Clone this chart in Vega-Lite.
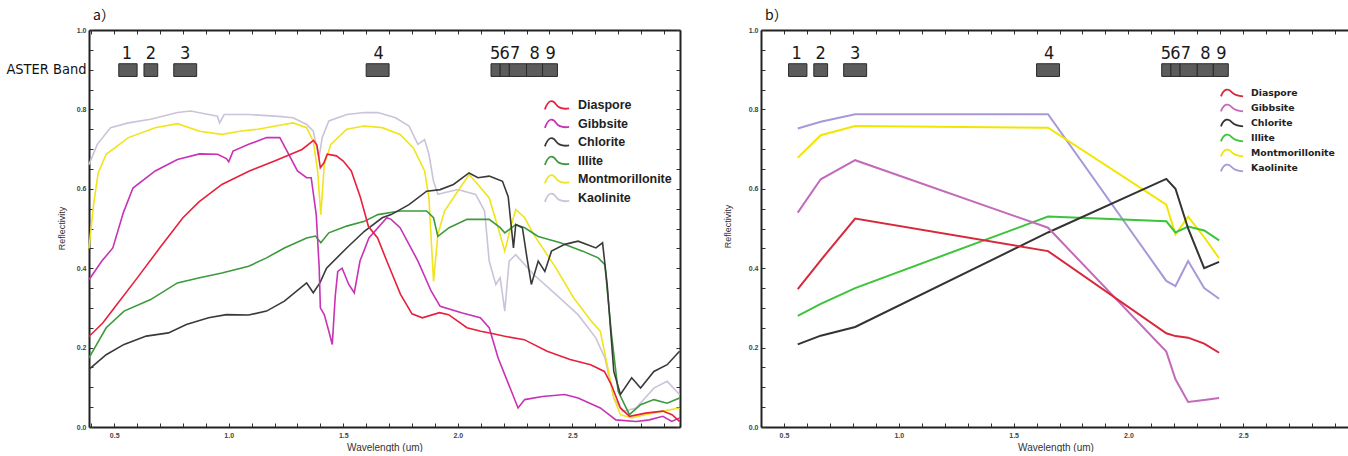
{
  "$schema": "https://vega.github.io/schema/vega-lite/v6.json",
  "padding": {"left": 5, "top": 9, "right": 0, "bottom": 0},
  "spacing": 40,
  "background": "white",
  "config": {
    "view": {"stroke": null},
    "axis": {"domainColor": "#222", "domainWidth": 2, "tickColor": "#333", "tickWidth": 1, "tickSize": -4, "labelFont": "Liberation Sans", "labelFontSize": 7, "labelFontWeight": "bold", "labelColor": "#444", "grid": false, "titleFont": "Liberation Sans", "titleFontSize": 10, "titleFontWeight": "normal", "titleColor": "#333", "labelOverlap": false, "labelFlush": false},
    "title": {"font": "Noto Sans CJK SC", "fontSize": 14, "fontWeight": "normal", "anchor": "start", "frame": "group", "offset": 3, "color": "#111"},
    "legend": {"symbolStrokeWidth": 1.8, "symbolFillColor": "transparent", "labelColor": "#222", "labelFontWeight": "bold"}
  },
  "resolve": {"scale": {"color": "independent"}, "legend": {"color": "independent"}},
  "datasets": {
    "bands": [
      {"b": "1", "x0": 0.52, "x1": 0.60},
      {"b": "2", "x0": 0.63, "x1": 0.69},
      {"b": "3", "x0": 0.76, "x1": 0.86},
      {"b": "4", "x0": 1.60, "x1": 1.70},
      {"b": "5", "x0": 2.145, "x1": 2.185},
      {"b": "6", "x0": 2.185, "x1": 2.225},
      {"b": "7", "x0": 2.225, "x1": 2.30},
      {"b": "8", "x0": 2.30, "x1": 2.37},
      {"b": "9", "x0": 2.37, "x1": 2.435}
    ],
    "blabels": [
      {"t": "1", "x": 0.555}, {"t": "2", "x": 0.66}, {"t": "3", "x": 0.81}, {"t": "4", "x": 1.655},
      {"t": "5", "x": 2.163}, {"t": "6", "x": 2.205}, {"t": "7", "x": 2.25}, {"t": "8", "x": 2.335}, {"t": "9", "x": 2.405}
    ],
    "a": [
      {"m": "Kaolinite", "x": 0.39, "y": 0.661}, {"m": "Kaolinite", "x": 0.426, "y": 0.712}, {"m": "Kaolinite", "x": 0.484, "y": 0.754}, {"m": "Kaolinite", "x": 0.562, "y": 0.766}, {"m": "Kaolinite", "x": 0.659, "y": 0.775}, {"m": "Kaolinite", "x": 0.776, "y": 0.792}, {"m": "Kaolinite", "x": 0.834, "y": 0.796}, {"m": "Kaolinite", "x": 0.912, "y": 0.787}, {"m": "Kaolinite", "x": 0.951, "y": 0.783}, {"m": "Kaolinite", "x": 0.96, "y": 0.766}, {"m": "Kaolinite", "x": 0.98, "y": 0.787}, {"m": "Kaolinite", "x": 1.087, "y": 0.787}, {"m": "Kaolinite", "x": 1.204, "y": 0.783}, {"m": "Kaolinite", "x": 1.281, "y": 0.779}, {"m": "Kaolinite", "x": 1.34, "y": 0.762}, {"m": "Kaolinite", "x": 1.369, "y": 0.745}, {"m": "Kaolinite", "x": 1.394, "y": 0.678}, {"m": "Kaolinite", "x": 1.408, "y": 0.729}, {"m": "Kaolinite", "x": 1.437, "y": 0.771}, {"m": "Kaolinite", "x": 1.515, "y": 0.787}, {"m": "Kaolinite", "x": 1.592, "y": 0.792}, {"m": "Kaolinite", "x": 1.651, "y": 0.792}, {"m": "Kaolinite", "x": 1.728, "y": 0.779}, {"m": "Kaolinite", "x": 1.787, "y": 0.758}, {"m": "Kaolinite", "x": 1.826, "y": 0.712}, {"m": "Kaolinite", "x": 1.855, "y": 0.724}, {"m": "Kaolinite", "x": 1.874, "y": 0.687}, {"m": "Kaolinite", "x": 1.894, "y": 0.619}, {"m": "Kaolinite", "x": 1.913, "y": 0.586}, {"m": "Kaolinite", "x": 2.0, "y": 0.598}, {"m": "Kaolinite", "x": 2.078, "y": 0.586}, {"m": "Kaolinite", "x": 2.117, "y": 0.544}, {"m": "Kaolinite", "x": 2.137, "y": 0.418}, {"m": "Kaolinite", "x": 2.166, "y": 0.359}, {"m": "Kaolinite", "x": 2.185, "y": 0.376}, {"m": "Kaolinite", "x": 2.205, "y": 0.292}, {"m": "Kaolinite", "x": 2.224, "y": 0.418}, {"m": "Kaolinite", "x": 2.253, "y": 0.434}, {"m": "Kaolinite", "x": 2.331, "y": 0.384}, {"m": "Kaolinite", "x": 2.428, "y": 0.334}, {"m": "Kaolinite", "x": 2.525, "y": 0.283}, {"m": "Kaolinite", "x": 2.603, "y": 0.224}, {"m": "Kaolinite", "x": 2.642, "y": 0.174}, {"m": "Kaolinite", "x": 2.681, "y": 0.073}, {"m": "Kaolinite", "x": 2.72, "y": 0.039}, {"m": "Kaolinite", "x": 2.778, "y": 0.048}, {"m": "Kaolinite", "x": 2.856, "y": 0.098}, {"m": "Kaolinite", "x": 2.914, "y": 0.115}, {"m": "Kaolinite", "x": 2.968, "y": 0.082},
      {"m": "Montmorillonite", "x": 0.39, "y": 0.45}, {"m": "Montmorillonite", "x": 0.41, "y": 0.56}, {"m": "Montmorillonite", "x": 0.43, "y": 0.64}, {"m": "Montmorillonite", "x": 0.465, "y": 0.687}, {"m": "Montmorillonite", "x": 0.562, "y": 0.729}, {"m": "Montmorillonite", "x": 0.679, "y": 0.754}, {"m": "Montmorillonite", "x": 0.776, "y": 0.764}, {"m": "Montmorillonite", "x": 0.873, "y": 0.745}, {"m": "Montmorillonite", "x": 0.97, "y": 0.737}, {"m": "Montmorillonite", "x": 1.048, "y": 0.745}, {"m": "Montmorillonite", "x": 1.126, "y": 0.75}, {"m": "Montmorillonite", "x": 1.204, "y": 0.758}, {"m": "Montmorillonite", "x": 1.281, "y": 0.766}, {"m": "Montmorillonite", "x": 1.34, "y": 0.754}, {"m": "Montmorillonite", "x": 1.369, "y": 0.72}, {"m": "Montmorillonite", "x": 1.388, "y": 0.645}, {"m": "Montmorillonite", "x": 1.402, "y": 0.535}, {"m": "Montmorillonite", "x": 1.417, "y": 0.661}, {"m": "Montmorillonite", "x": 1.446, "y": 0.712}, {"m": "Montmorillonite", "x": 1.515, "y": 0.75}, {"m": "Montmorillonite", "x": 1.592, "y": 0.758}, {"m": "Montmorillonite", "x": 1.67, "y": 0.754}, {"m": "Montmorillonite", "x": 1.748, "y": 0.737}, {"m": "Montmorillonite", "x": 1.806, "y": 0.703}, {"m": "Montmorillonite", "x": 1.855, "y": 0.645}, {"m": "Montmorillonite", "x": 1.874, "y": 0.577}, {"m": "Montmorillonite", "x": 1.894, "y": 0.367}, {"m": "Montmorillonite", "x": 1.913, "y": 0.485}, {"m": "Montmorillonite", "x": 1.942, "y": 0.544}, {"m": "Montmorillonite", "x": 2.0, "y": 0.594}, {"m": "Montmorillonite", "x": 2.049, "y": 0.636}, {"m": "Montmorillonite", "x": 2.088, "y": 0.611}, {"m": "Montmorillonite", "x": 2.137, "y": 0.577}, {"m": "Montmorillonite", "x": 2.176, "y": 0.502}, {"m": "Montmorillonite", "x": 2.205, "y": 0.443}, {"m": "Montmorillonite", "x": 2.234, "y": 0.51}, {"m": "Montmorillonite", "x": 2.253, "y": 0.548}, {"m": "Montmorillonite", "x": 2.292, "y": 0.527}, {"m": "Montmorillonite", "x": 2.331, "y": 0.485}, {"m": "Montmorillonite", "x": 2.428, "y": 0.401}, {"m": "Montmorillonite", "x": 2.506, "y": 0.325}, {"m": "Montmorillonite", "x": 2.584, "y": 0.266}, {"m": "Montmorillonite", "x": 2.622, "y": 0.241}, {"m": "Montmorillonite", "x": 2.652, "y": 0.157}, {"m": "Montmorillonite", "x": 2.681, "y": 0.073}, {"m": "Montmorillonite", "x": 2.71, "y": 0.031}, {"m": "Montmorillonite", "x": 2.759, "y": 0.023}, {"m": "Montmorillonite", "x": 2.817, "y": 0.031}, {"m": "Montmorillonite", "x": 2.895, "y": 0.04}, {"m": "Montmorillonite", "x": 2.968, "y": 0.048},
      {"m": "Illite", "x": 0.39, "y": 0.174}, {"m": "Illite", "x": 0.465, "y": 0.25}, {"m": "Illite", "x": 0.543, "y": 0.292}, {"m": "Illite", "x": 0.659, "y": 0.321}, {"m": "Illite", "x": 0.776, "y": 0.363}, {"m": "Illite", "x": 0.873, "y": 0.376}, {"m": "Illite", "x": 0.97, "y": 0.388}, {"m": "Illite", "x": 1.087, "y": 0.405}, {"m": "Illite", "x": 1.165, "y": 0.426}, {"m": "Illite", "x": 1.243, "y": 0.451}, {"m": "Illite", "x": 1.34, "y": 0.476}, {"m": "Illite", "x": 1.379, "y": 0.481}, {"m": "Illite", "x": 1.402, "y": 0.464}, {"m": "Illite", "x": 1.437, "y": 0.489}, {"m": "Illite", "x": 1.515, "y": 0.506}, {"m": "Illite", "x": 1.592, "y": 0.518}, {"m": "Illite", "x": 1.651, "y": 0.535}, {"m": "Illite", "x": 1.748, "y": 0.544}, {"m": "Illite", "x": 1.864, "y": 0.544}, {"m": "Illite", "x": 1.894, "y": 0.527}, {"m": "Illite", "x": 1.913, "y": 0.48}, {"m": "Illite", "x": 1.962, "y": 0.502}, {"m": "Illite", "x": 2.04, "y": 0.523}, {"m": "Illite", "x": 2.137, "y": 0.523}, {"m": "Illite", "x": 2.185, "y": 0.502}, {"m": "Illite", "x": 2.205, "y": 0.489}, {"m": "Illite", "x": 2.253, "y": 0.51}, {"m": "Illite", "x": 2.292, "y": 0.502}, {"m": "Illite", "x": 2.351, "y": 0.48}, {"m": "Illite", "x": 2.448, "y": 0.464}, {"m": "Illite", "x": 2.545, "y": 0.443}, {"m": "Illite", "x": 2.613, "y": 0.426}, {"m": "Illite", "x": 2.642, "y": 0.409}, {"m": "Illite", "x": 2.671, "y": 0.233}, {"m": "Illite", "x": 2.70, "y": 0.09}, {"m": "Illite", "x": 2.749, "y": 0.031}, {"m": "Illite", "x": 2.798, "y": 0.056}, {"m": "Illite", "x": 2.856, "y": 0.069}, {"m": "Illite", "x": 2.914, "y": 0.06}, {"m": "Illite", "x": 2.968, "y": 0.073},
      {"m": "Chlorite", "x": 0.39, "y": 0.145}, {"m": "Chlorite", "x": 0.465, "y": 0.182}, {"m": "Chlorite", "x": 0.543, "y": 0.208}, {"m": "Chlorite", "x": 0.64, "y": 0.229}, {"m": "Chlorite", "x": 0.737, "y": 0.237}, {"m": "Chlorite", "x": 0.815, "y": 0.258}, {"m": "Chlorite", "x": 0.912, "y": 0.275}, {"m": "Chlorite", "x": 0.99, "y": 0.283}, {"m": "Chlorite", "x": 1.087, "y": 0.282}, {"m": "Chlorite", "x": 1.165, "y": 0.292}, {"m": "Chlorite", "x": 1.243, "y": 0.317}, {"m": "Chlorite", "x": 1.34, "y": 0.363}, {"m": "Chlorite", "x": 1.369, "y": 0.338}, {"m": "Chlorite", "x": 1.398, "y": 0.363}, {"m": "Chlorite", "x": 1.427, "y": 0.40}, {"m": "Chlorite", "x": 1.515, "y": 0.451}, {"m": "Chlorite", "x": 1.592, "y": 0.493}, {"m": "Chlorite", "x": 1.67, "y": 0.527}, {"m": "Chlorite", "x": 1.709, "y": 0.535}, {"m": "Chlorite", "x": 1.787, "y": 0.56}, {"m": "Chlorite", "x": 1.864, "y": 0.594}, {"m": "Chlorite", "x": 1.923, "y": 0.598}, {"m": "Chlorite", "x": 1.981, "y": 0.611}, {"m": "Chlorite", "x": 2.049, "y": 0.64}, {"m": "Chlorite", "x": 2.088, "y": 0.628}, {"m": "Chlorite", "x": 2.137, "y": 0.632}, {"m": "Chlorite", "x": 2.156, "y": 0.628}, {"m": "Chlorite", "x": 2.195, "y": 0.619}, {"m": "Chlorite", "x": 2.22, "y": 0.58}, {"m": "Chlorite", "x": 2.243, "y": 0.451}, {"m": "Chlorite", "x": 2.253, "y": 0.51}, {"m": "Chlorite", "x": 2.282, "y": 0.502}, {"m": "Chlorite", "x": 2.302, "y": 0.426}, {"m": "Chlorite", "x": 2.321, "y": 0.359}, {"m": "Chlorite", "x": 2.351, "y": 0.418}, {"m": "Chlorite", "x": 2.38, "y": 0.392}, {"m": "Chlorite", "x": 2.409, "y": 0.443}, {"m": "Chlorite", "x": 2.467, "y": 0.46}, {"m": "Chlorite", "x": 2.525, "y": 0.468}, {"m": "Chlorite", "x": 2.603, "y": 0.451}, {"m": "Chlorite", "x": 2.632, "y": 0.464}, {"m": "Chlorite", "x": 2.652, "y": 0.359}, {"m": "Chlorite", "x": 2.681, "y": 0.14}, {"m": "Chlorite", "x": 2.71, "y": 0.082}, {"m": "Chlorite", "x": 2.759, "y": 0.124}, {"m": "Chlorite", "x": 2.798, "y": 0.098}, {"m": "Chlorite", "x": 2.856, "y": 0.14}, {"m": "Chlorite", "x": 2.914, "y": 0.157}, {"m": "Chlorite", "x": 2.968, "y": 0.191},
      {"m": "Gibbsite", "x": 0.39, "y": 0.371}, {"m": "Gibbsite", "x": 0.446, "y": 0.418}, {"m": "Gibbsite", "x": 0.494, "y": 0.451}, {"m": "Gibbsite", "x": 0.54, "y": 0.54}, {"m": "Gibbsite", "x": 0.582, "y": 0.602}, {"m": "Gibbsite", "x": 0.679, "y": 0.645}, {"m": "Gibbsite", "x": 0.776, "y": 0.674}, {"m": "Gibbsite", "x": 0.873, "y": 0.688}, {"m": "Gibbsite", "x": 0.951, "y": 0.687}, {"m": "Gibbsite", "x": 0.99, "y": 0.676}, {"m": "Gibbsite", "x": 1.0, "y": 0.668}, {"m": "Gibbsite", "x": 1.019, "y": 0.695}, {"m": "Gibbsite", "x": 1.087, "y": 0.712}, {"m": "Gibbsite", "x": 1.165, "y": 0.729}, {"m": "Gibbsite", "x": 1.223, "y": 0.729}, {"m": "Gibbsite", "x": 1.262, "y": 0.687}, {"m": "Gibbsite", "x": 1.30, "y": 0.645}, {"m": "Gibbsite", "x": 1.34, "y": 0.628}, {"m": "Gibbsite", "x": 1.36, "y": 0.628}, {"m": "Gibbsite", "x": 1.382, "y": 0.535}, {"m": "Gibbsite", "x": 1.395, "y": 0.40}, {"m": "Gibbsite", "x": 1.40, "y": 0.30}, {"m": "Gibbsite", "x": 1.417, "y": 0.283}, {"m": "Gibbsite", "x": 1.437, "y": 0.241}, {"m": "Gibbsite", "x": 1.452, "y": 0.208}, {"m": "Gibbsite", "x": 1.465, "y": 0.33}, {"m": "Gibbsite", "x": 1.476, "y": 0.392}, {"m": "Gibbsite", "x": 1.495, "y": 0.40}, {"m": "Gibbsite", "x": 1.524, "y": 0.359}, {"m": "Gibbsite", "x": 1.548, "y": 0.338}, {"m": "Gibbsite", "x": 1.573, "y": 0.418}, {"m": "Gibbsite", "x": 1.612, "y": 0.476}, {"m": "Gibbsite", "x": 1.69, "y": 0.527}, {"m": "Gibbsite", "x": 1.709, "y": 0.523}, {"m": "Gibbsite", "x": 1.748, "y": 0.502}, {"m": "Gibbsite", "x": 1.826, "y": 0.418}, {"m": "Gibbsite", "x": 1.884, "y": 0.342}, {"m": "Gibbsite", "x": 1.923, "y": 0.304}, {"m": "Gibbsite", "x": 2.02, "y": 0.287}, {"m": "Gibbsite", "x": 2.098, "y": 0.275}, {"m": "Gibbsite", "x": 2.137, "y": 0.25}, {"m": "Gibbsite", "x": 2.176, "y": 0.174}, {"m": "Gibbsite", "x": 2.234, "y": 0.09}, {"m": "Gibbsite", "x": 2.263, "y": 0.048}, {"m": "Gibbsite", "x": 2.292, "y": 0.069}, {"m": "Gibbsite", "x": 2.37, "y": 0.077}, {"m": "Gibbsite", "x": 2.467, "y": 0.082}, {"m": "Gibbsite", "x": 2.525, "y": 0.073}, {"m": "Gibbsite", "x": 2.622, "y": 0.048}, {"m": "Gibbsite", "x": 2.69, "y": 0.018}, {"m": "Gibbsite", "x": 2.778, "y": 0.014}, {"m": "Gibbsite", "x": 2.836, "y": 0.018}, {"m": "Gibbsite", "x": 2.895, "y": 0.027}, {"m": "Gibbsite", "x": 2.934, "y": 0.014}, {"m": "Gibbsite", "x": 2.968, "y": 0.023},
      {"m": "Diaspore", "x": 0.39, "y": 0.228}, {"m": "Diaspore", "x": 0.45, "y": 0.262}, {"m": "Diaspore", "x": 0.5, "y": 0.30}, {"m": "Diaspore", "x": 0.6, "y": 0.375}, {"m": "Diaspore", "x": 0.7, "y": 0.452}, {"m": "Diaspore", "x": 0.8, "y": 0.527}, {"m": "Diaspore", "x": 0.87, "y": 0.567}, {"m": "Diaspore", "x": 0.97, "y": 0.611}, {"m": "Diaspore", "x": 1.09, "y": 0.645}, {"m": "Diaspore", "x": 1.2, "y": 0.67}, {"m": "Diaspore", "x": 1.32, "y": 0.699}, {"m": "Diaspore", "x": 1.37, "y": 0.722}, {"m": "Diaspore", "x": 1.385, "y": 0.71}, {"m": "Diaspore", "x": 1.40, "y": 0.653}, {"m": "Diaspore", "x": 1.415, "y": 0.665}, {"m": "Diaspore", "x": 1.43, "y": 0.687}, {"m": "Diaspore", "x": 1.47, "y": 0.683}, {"m": "Diaspore", "x": 1.5, "y": 0.67}, {"m": "Diaspore", "x": 1.535, "y": 0.645}, {"m": "Diaspore", "x": 1.575, "y": 0.578}, {"m": "Diaspore", "x": 1.61, "y": 0.505}, {"m": "Diaspore", "x": 1.65, "y": 0.476}, {"m": "Diaspore", "x": 1.69, "y": 0.418}, {"m": "Diaspore", "x": 1.75, "y": 0.334}, {"m": "Diaspore", "x": 1.8, "y": 0.285}, {"m": "Diaspore", "x": 1.845, "y": 0.275}, {"m": "Diaspore", "x": 1.92, "y": 0.288}, {"m": "Diaspore", "x": 1.96, "y": 0.283}, {"m": "Diaspore", "x": 2.04, "y": 0.25}, {"m": "Diaspore", "x": 2.1, "y": 0.241}, {"m": "Diaspore", "x": 2.14, "y": 0.237}, {"m": "Diaspore", "x": 2.2, "y": 0.229}, {"m": "Diaspore", "x": 2.29, "y": 0.22}, {"m": "Diaspore", "x": 2.39, "y": 0.191}, {"m": "Diaspore", "x": 2.49, "y": 0.17}, {"m": "Diaspore", "x": 2.58, "y": 0.157}, {"m": "Diaspore", "x": 2.64, "y": 0.14}, {"m": "Diaspore", "x": 2.67, "y": 0.107}, {"m": "Diaspore", "x": 2.71, "y": 0.048}, {"m": "Diaspore", "x": 2.75, "y": 0.027}, {"m": "Diaspore", "x": 2.82, "y": 0.035}, {"m": "Diaspore", "x": 2.895, "y": 0.04}, {"m": "Diaspore", "x": 2.935, "y": 0.031}, {"m": "Diaspore", "x": 2.968, "y": 0.014}
    ],
    "b": [
      {"m": "Kaolinite", "x": 0.56, "y": 0.752}, {"m": "Kaolinite", "x": 0.66, "y": 0.769}, {"m": "Kaolinite", "x": 0.81, "y": 0.788}, {"m": "Kaolinite", "x": 1.65, "y": 0.788}, {"m": "Kaolinite", "x": 2.165, "y": 0.368}, {"m": "Kaolinite", "x": 2.205, "y": 0.355}, {"m": "Kaolinite", "x": 2.26, "y": 0.418}, {"m": "Kaolinite", "x": 2.33, "y": 0.35}, {"m": "Kaolinite", "x": 2.395, "y": 0.323},
      {"m": "Montmorillonite", "x": 0.56, "y": 0.678}, {"m": "Montmorillonite", "x": 0.66, "y": 0.735}, {"m": "Montmorillonite", "x": 0.81, "y": 0.758}, {"m": "Montmorillonite", "x": 1.65, "y": 0.754}, {"m": "Montmorillonite", "x": 2.165, "y": 0.56}, {"m": "Montmorillonite", "x": 2.205, "y": 0.485}, {"m": "Montmorillonite", "x": 2.26, "y": 0.53}, {"m": "Montmorillonite", "x": 2.33, "y": 0.478}, {"m": "Montmorillonite", "x": 2.395, "y": 0.425},
      {"m": "Illite", "x": 0.56, "y": 0.28}, {"m": "Illite", "x": 0.66, "y": 0.31}, {"m": "Illite", "x": 0.81, "y": 0.35}, {"m": "Illite", "x": 1.65, "y": 0.53}, {"m": "Illite", "x": 2.165, "y": 0.518}, {"m": "Illite", "x": 2.205, "y": 0.49}, {"m": "Illite", "x": 2.26, "y": 0.505}, {"m": "Illite", "x": 2.33, "y": 0.495}, {"m": "Illite", "x": 2.395, "y": 0.47},
      {"m": "Chlorite", "x": 0.56, "y": 0.208}, {"m": "Chlorite", "x": 0.66, "y": 0.23}, {"m": "Chlorite", "x": 0.81, "y": 0.252}, {"m": "Chlorite", "x": 1.65, "y": 0.49}, {"m": "Chlorite", "x": 2.165, "y": 0.625}, {"m": "Chlorite", "x": 2.205, "y": 0.6}, {"m": "Chlorite", "x": 2.26, "y": 0.5}, {"m": "Chlorite", "x": 2.33, "y": 0.4}, {"m": "Chlorite", "x": 2.395, "y": 0.416},
      {"m": "Gibbsite", "x": 0.56, "y": 0.54}, {"m": "Gibbsite", "x": 0.66, "y": 0.624}, {"m": "Gibbsite", "x": 0.81, "y": 0.672}, {"m": "Gibbsite", "x": 1.65, "y": 0.502}, {"m": "Gibbsite", "x": 2.165, "y": 0.19}, {"m": "Gibbsite", "x": 2.205, "y": 0.12}, {"m": "Gibbsite", "x": 2.26, "y": 0.063}, {"m": "Gibbsite", "x": 2.33, "y": 0.068}, {"m": "Gibbsite", "x": 2.395, "y": 0.073},
      {"m": "Diaspore", "x": 0.56, "y": 0.347}, {"m": "Diaspore", "x": 0.66, "y": 0.42}, {"m": "Diaspore", "x": 0.81, "y": 0.525}, {"m": "Diaspore", "x": 1.65, "y": 0.443}, {"m": "Diaspore", "x": 2.165, "y": 0.236}, {"m": "Diaspore", "x": 2.205, "y": 0.229}, {"m": "Diaspore", "x": 2.26, "y": 0.225}, {"m": "Diaspore", "x": 2.33, "y": 0.21}, {"m": "Diaspore", "x": 2.395, "y": 0.187}
    ]
  },
  "hconcat": [
    {
      "width": 591,
      "height": 397,
      "title": {"text": "a）", "dx": 4},
      "layer": [
        {
          "data": {"name": "bands"},
          "mark": {"type": "rect", "fill": "#5c5c5c", "stroke": "#2a2a2a", "strokeWidth": 1},
          "encoding": {
            "x": {"field": "x0", "type": "quantitative", "scale": {"domain": [0.39, 2.97], "nice": false, "zero": false},
              "axis": {"orient": "bottom", "values": [0.4,0.5,0.6,0.7,0.8,0.9,1.0,1.1,1.2,1.3,1.4,1.5,1.6,1.7,1.8,1.9,2.0,2.1,2.2,2.3,2.4,2.5,2.6,2.7,2.8,2.9],
                "labelExpr": "abs(datum.value*2 - round(datum.value*2)) < 0.001 ? format(datum.value, '.1f') : ''", "title": "Wavelength (um)", "titlePadding": 4, "labelPadding": 8}},
            "x2": {"field": "x1"},
            "y": {"datum": 0.883, "type": "quantitative", "scale": {"domain": [0, 1], "nice": false},
              "axis": {"orient": "left", "values": [0,0.05,0.1,0.15,0.2,0.25,0.3,0.35,0.4,0.45,0.5,0.55,0.6,0.65,0.7,0.75,0.8,0.85,0.9,0.95,1.0],
                "labelExpr": "datum.value == 0.9 ? 'ASTER Band' : (abs(datum.value*5 - round(datum.value*5)) < 0.001 ? format(datum.value, '.1f') : '')",
                "labelFontSize": {"condition": {"test": "datum.value == 0.9", "value": 14.5}, "value": 7},
                "labelFont": {"condition": {"test": "datum.value == 0.9", "value": "DejaVu Sans Condensed"}, "value": "Liberation Sans"},
                "labelFontWeight": {"condition": {"test": "datum.value == 0.9", "value": "normal"}, "value": "bold"},
                "labelColor": {"condition": {"test": "datum.value == 0.9", "value": "#111"}, "value": "#444"},
                "title": "Reflectivity", "titleFontSize": 9, "titleX": -23, "titleY": 198, "labelPadding": 7}},
            "y2": {"datum": 0.915}
          }
        },
        {
          "data": {"name": "blabels"},
          "mark": {"type": "text", "font": "DejaVu Sans Condensed", "fontSize": 18, "baseline": "alphabetic", "color": "#1a1a1a"},
          "encoding": {
            "x": {"field": "x", "type": "quantitative", "axis": {"orient": "top", "labels": false, "title": null, "values": [0.4,0.5,0.6,0.7,0.8,0.9,1.0,1.1,1.2,1.3,1.4,1.5,1.6,1.7,1.8,1.9,2.0,2.1,2.2,2.3,2.4,2.5,2.6,2.7,2.8,2.9]}},
            "y": {"datum": 0.928, "type": "quantitative", "axis": {"orient": "right", "labels": false, "title": null, "values": [0,0.05,0.1,0.15,0.2,0.25,0.3,0.35,0.4,0.45,0.5,0.55,0.6,0.65,0.7,0.75,0.8,0.85,0.9,0.95,1.0]}},
            "text": {"field": "t"}
          }
        },
        {
          "data": {"name": "a"},
          "mark": {"type": "line", "strokeWidth": 1.6, "interpolate": "linear"},
          "encoding": {
            "x": {"field": "x", "type": "quantitative", "axis": null},
            "y": {"field": "y", "type": "quantitative", "axis": null},
            "color": {"field": "m", "type": "nominal",
              "scale": {"domain": ["Diaspore", "Gibbsite", "Chlorite", "Illite", "Montmorillonite", "Kaolinite"], "range": ["#e8203c", "#c832b4", "#3a3a3a", "#3c9a3c", "#f0e41c", "#cbc3da"]},
              "legend": {"title": null, "orient": "none", "legendX": 458, "legendY": 65, "labelFont": "Liberation Sans", "labelFontSize": 12.5, "symbolType": "M-1.4,0.5 C-1,-0.6 -0.5,-0.7 -0.1,-0.05 C0.25,0.45 0.75,0.5 1.4,0.4", "symbolSize": 300, "labelOffset": 11, "rowPadding": 0.5}},
            "order": {"field": "x", "type": "quantitative"}
          }
        }
      ],
      "resolve": {"axis": {"x": "independent", "y": "independent"}}
    },
    {
      "width": 589,
      "height": 397,
      "title": {"text": "b）", "dx": 4},
      "layer": [
        {
          "data": {"name": "bands"},
          "mark": {"type": "rect", "fill": "#5c5c5c", "stroke": "#2a2a2a", "strokeWidth": 1},
          "encoding": {
            "x": {"field": "x0", "type": "quantitative", "scale": {"domain": [0.4, 2.965], "nice": false, "zero": false},
              "axis": {"orient": "bottom", "values": [0.4,0.5,0.6,0.7,0.8,0.9,1.0,1.1,1.2,1.3,1.4,1.5,1.6,1.7,1.8,1.9,2.0,2.1,2.2,2.3,2.4,2.5,2.6,2.7,2.8,2.9],
                "labelExpr": "abs(datum.value*2 - round(datum.value*2)) < 0.001 ? format(datum.value, '.1f') : ''", "title": "Wavelength (um)", "titlePadding": 4, "labelPadding": 8}},
            "x2": {"field": "x1"},
            "y": {"datum": 0.883, "type": "quantitative", "scale": {"domain": [0, 1], "nice": false},
              "axis": {"orient": "left", "values": [0,0.05,0.1,0.15,0.2,0.25,0.3,0.35,0.4,0.45,0.5,0.55,0.6,0.65,0.7,0.75,0.8,0.85,0.9,0.95,1.0],
                "labelExpr": "abs(datum.value*5 - round(datum.value*5)) < 0.001 ? format(datum.value, '.1f') : ''",
                "title": "Reflectivity", "titleFontSize": 9, "titleX": -29, "titleY": 196, "labelPadding": 7}},
            "y2": {"datum": 0.915}
          }
        },
        {
          "data": {"name": "blabels"},
          "mark": {"type": "text", "font": "DejaVu Sans Condensed", "fontSize": 18, "baseline": "alphabetic", "color": "#1a1a1a"},
          "encoding": {
            "x": {"field": "x", "type": "quantitative", "axis": {"orient": "top", "labels": false, "title": null, "values": [0.4,0.5,0.6,0.7,0.8,0.9,1.0,1.1,1.2,1.3,1.4,1.5,1.6,1.7,1.8,1.9,2.0,2.1,2.2,2.3,2.4,2.5,2.6,2.7,2.8,2.9]}},
            "y": {"datum": 0.928, "type": "quantitative", "axis": null},
            "text": {"field": "t"}
          }
        },
        {
          "data": {"name": "b"},
          "mark": {"type": "line", "strokeWidth": 2, "interpolate": "linear"},
          "encoding": {
            "x": {"field": "x", "type": "quantitative", "axis": null},
            "y": {"field": "y", "type": "quantitative", "axis": null},
            "color": {"field": "m", "type": "nominal",
              "scale": {"domain": ["Diaspore", "Gibbsite", "Chlorite", "Illite", "Montmorillonite", "Kaolinite"], "range": ["#d8283c", "#c36bb8", "#333333", "#3cc43c", "#f2e600", "#a898d8"]},
              "legend": {"title": null, "orient": "none", "legendX": 464, "legendY": 56, "labelFont": "DejaVu Sans", "labelFontSize": 9.3, "symbolType": "M-1.85,0.55 C-1.3,-0.8 -0.6,-0.8 0,-0.1 C0.5,0.4 1.0,0.5 1.85,0.55", "symbolSize": 144, "labelOffset": 12, "rowPadding": 1}},
            "order": {"field": "x", "type": "quantitative"}
          }
        }
      ],
      "resolve": {"axis": {"x": "independent", "y": "independent"}}
    }
  ]
}
